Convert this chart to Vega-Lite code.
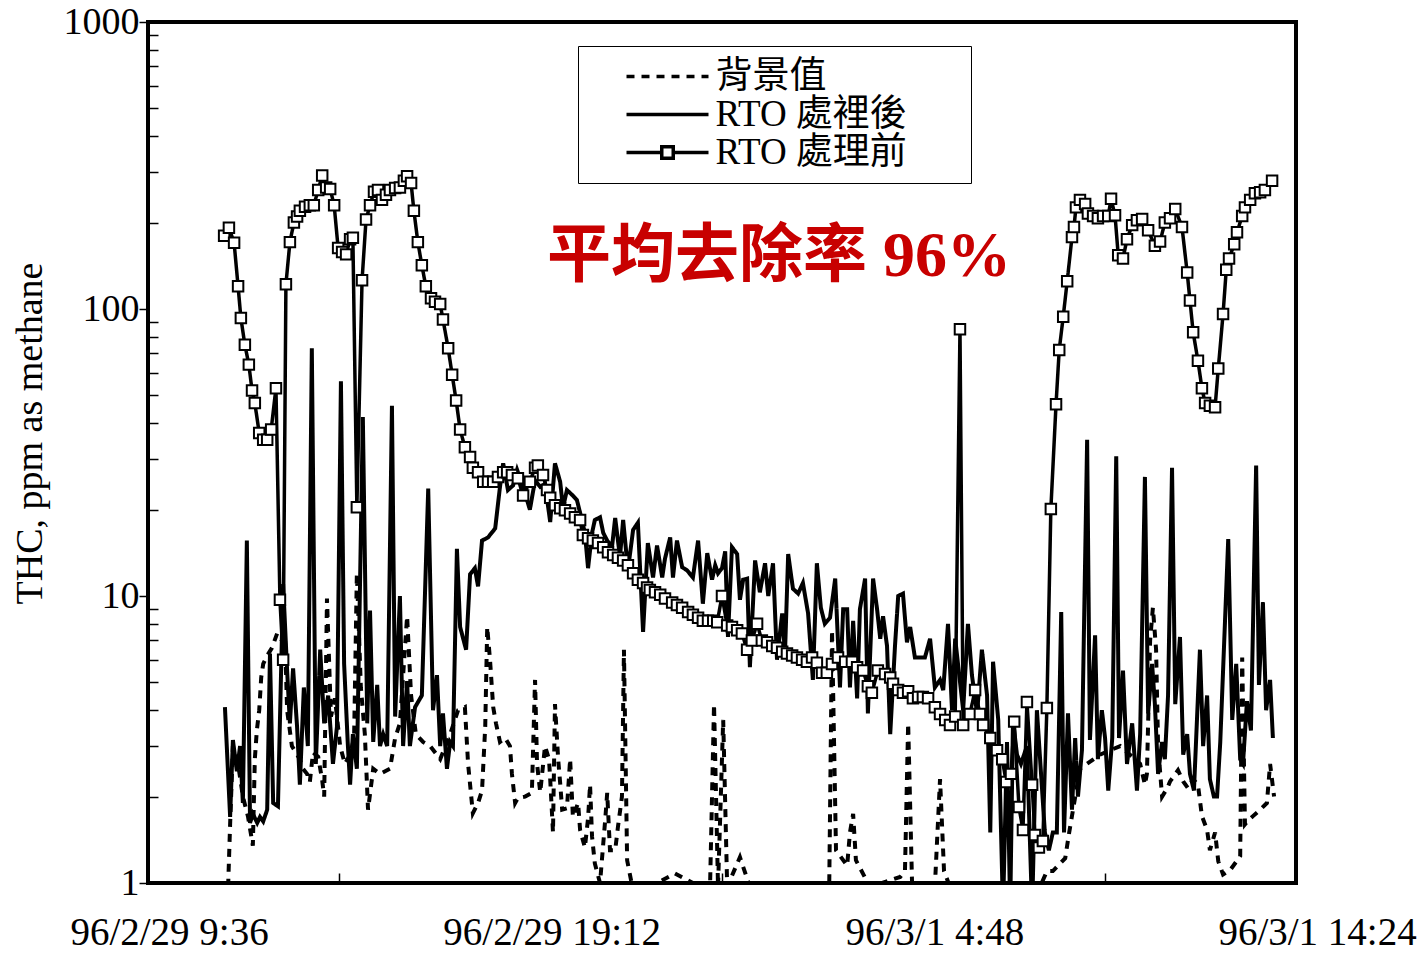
{
"$schema": "https://vega.github.io/schema/vega-lite/v6.json",
"width": 1148, "height": 861,
"autosize": {"type": "none"},
"padding": {"left": 148, "top": 22, "right": 130, "bottom": 74},
"background": "white",
"datasets": {
"before": [
{"t":11.51,"v":180},{"t":11.63,"v":192},{"t":11.76,"v":170},{"t":11.86,"v":120},{"t":11.93,"v":93},{"t":12.03,"v":75},{"t":12.13,"v":64},{"t":12.21,"v":52},{"t":12.28,"v":47},{"t":12.39,"v":37},{"t":12.49,"v":35},{"t":12.59,"v":35},{"t":12.69,"v":38},{"t":12.81,"v":53},{"t":12.91,"v":9.7},{"t":12.99,"v":6},{"t":13.06,"v":122},{"t":13.16,"v":171},{"t":13.26,"v":200},{"t":13.34,"v":210},{"t":13.41,"v":220},{"t":13.54,"v":227},{"t":13.66,"v":230},{"t":13.76,"v":230},{"t":13.87,"v":260},{"t":13.97,"v":292},{"t":14.07,"v":265},{"t":14.17,"v":262},{"t":14.27,"v":230},{"t":14.37,"v":163},{"t":14.47,"v":158},{"t":14.57,"v":155},{"t":14.67,"v":175},{"t":14.74,"v":177},{"t":14.84,"v":20.4},{"t":14.97,"v":126},{"t":15.07,"v":205},{"t":15.17,"v":230},{"t":15.27,"v":256},{"t":15.37,"v":260},{"t":15.47,"v":240},{"t":15.57,"v":250},{"t":15.67,"v":260},{"t":15.80,"v":264},{"t":15.92,"v":265},{"t":16.02,"v":280},{"t":16.10,"v":290},{"t":16.20,"v":275},{"t":16.27,"v":220},{"t":16.37,"v":171},{"t":16.47,"v":142},{"t":16.57,"v":120},{"t":16.70,"v":109},{"t":16.80,"v":106},{"t":16.93,"v":104},{"t":17.00,"v":92},{"t":17.13,"v":73},{"t":17.23,"v":59},{"t":17.33,"v":48},{"t":17.43,"v":38},{"t":17.55,"v":33},{"t":17.68,"v":30.5},{"t":17.75,"v":28},{"t":17.88,"v":27},{"t":18.01,"v":25},{"t":18.13,"v":25},{"t":18.26,"v":25},{"t":18.38,"v":26},{"t":18.51,"v":27},{"t":18.61,"v":27},{"t":18.73,"v":26.4},{"t":18.88,"v":25.7},{"t":19.01,"v":22.4},{"t":19.18,"v":25},{"t":19.31,"v":28},{"t":19.38,"v":28.5},{"t":19.51,"v":26.4},{"t":19.61,"v":23.4},{"t":19.69,"v":22},{"t":19.81,"v":20.7},{"t":19.94,"v":20.2},{"t":20.06,"v":19.9},{"t":20.19,"v":19.4},{"t":20.31,"v":18.8},{"t":20.44,"v":18.4},{"t":20.51,"v":16.3},{"t":20.64,"v":15.9},{"t":20.76,"v":15.6},{"t":20.89,"v":15.3},{"t":21.02,"v":14.8},{"t":21.14,"v":14.2},{"t":21.27,"v":13.9},{"t":21.39,"v":13.6},{"t":21.52,"v":13.3},{"t":21.64,"v":12.8},{"t":21.77,"v":12.0},{"t":21.89,"v":11.4},{"t":22.02,"v":11.1},{"t":22.12,"v":10.7},{"t":22.19,"v":10.5},{"t":22.32,"v":10.3},{"t":22.45,"v":10.1},{"t":22.57,"v":9.8},{"t":22.75,"v":9.5},{"t":22.87,"v":9.3},{"t":23.00,"v":9.1},{"t":23.15,"v":8.8},{"t":23.27,"v":8.6},{"t":23.40,"v":8.4},{"t":23.52,"v":8.2},{"t":23.65,"v":8.2},{"t":23.78,"v":8.2},{"t":23.88,"v":8.1},{"t":24.00,"v":10},{"t":24.13,"v":7.9},{"t":24.25,"v":7.8},{"t":24.38,"v":7.6},{"t":24.50,"v":7.4},{"t":24.63,"v":6.5},{"t":24.75,"v":7.0},{"t":24.88,"v":8.0},{"t":25.00,"v":7.0},{"t":25.13,"v":6.9},{"t":25.26,"v":6.7},{"t":25.38,"v":6.6},{"t":25.51,"v":6.4},{"t":25.63,"v":6.3},{"t":25.76,"v":6.2},{"t":25.88,"v":6.1},{"t":26.01,"v":6.0},{"t":26.13,"v":5.9},{"t":26.26,"v":6.1},{"t":26.38,"v":5.85},{"t":26.51,"v":5.4},{"t":26.63,"v":5.4},{"t":26.76,"v":5.8},{"t":26.91,"v":6.1},{"t":27.09,"v":5.9},{"t":27.26,"v":5.9},{"t":27.39,"v":5.65},{"t":27.54,"v":5.5},{"t":27.66,"v":4.85},{"t":27.76,"v":4.6},{"t":27.91,"v":5.5},{"t":28.09,"v":5.35},{"t":28.22,"v":5.2},{"t":28.29,"v":4.95},{"t":28.42,"v":4.7},{"t":28.54,"v":4.6},{"t":28.67,"v":4.66},{"t":28.79,"v":4.4},{"t":28.92,"v":4.45},{"t":29.04,"v":4.45},{"t":29.17,"v":4.4},{"t":29.34,"v":4.1},{"t":29.47,"v":3.88},{"t":29.60,"v":3.7},{"t":29.72,"v":3.55},{"t":29.85,"v":3.8},{"t":29.97,"v":85},{"t":30.05,"v":3.55},{"t":30.22,"v":3.88},{"t":30.35,"v":4.7},{"t":30.47,"v":3.88},{"t":30.55,"v":3.55},{"t":30.73,"v":3.2},{"t":30.90,"v":2.9},{"t":31.03,"v":2.7},{"t":31.13,"v":2.25},{"t":31.25,"v":2.4},{"t":31.33,"v":3.65},{"t":31.45,"v":1.84},{"t":31.55,"v":1.53},{"t":31.65,"v":4.27},{"t":31.78,"v":2.2},{"t":31.85,"v":1.47},{"t":31.95,"v":1.33},{"t":32.05,"v":1.4},{"t":32.15,"v":4.07},{"t":32.25,"v":20.1},{"t":32.38,"v":46.6},{"t":32.46,"v":72},{"t":32.56,"v":94},{"t":32.66,"v":125},{"t":32.78,"v":178},{"t":32.83,"v":193},{"t":32.88,"v":226},{"t":32.98,"v":240},{"t":33.11,"v":232},{"t":33.18,"v":215},{"t":33.31,"v":211},{"t":33.43,"v":207},{"t":33.56,"v":211},{"t":33.69,"v":211},{"t":33.76,"v":242},{"t":33.86,"v":212},{"t":33.94,"v":154},{"t":34.06,"v":150},{"t":34.16,"v":175},{"t":34.29,"v":196},{"t":34.41,"v":204},{"t":34.54,"v":206},{"t":34.69,"v":188},{"t":34.86,"v":166},{"t":34.99,"v":172},{"t":35.11,"v":200},{"t":35.24,"v":207},{"t":35.37,"v":223},{"t":35.54,"v":193},{"t":35.67,"v":134},{"t":35.74,"v":107},{"t":35.82,"v":83},{"t":35.94,"v":66},{"t":36.04,"v":53},{"t":36.12,"v":47},{"t":36.24,"v":46},{"t":36.37,"v":45.5},{"t":36.45,"v":62},{"t":36.57,"v":96},{"t":36.65,"v":137},{"t":36.72,"v":150},{"t":36.85,"v":168},{"t":36.92,"v":185},{"t":37.05,"v":211},{"t":37.12,"v":226},{"t":37.25,"v":240},{"t":37.37,"v":253},{"t":37.50,"v":255},{"t":37.62,"v":260},{"t":37.80,"v":280}
],
"after": [
{"t":11.53,"v":4.1},{"t":11.66,"v":1.7},{"t":11.73,"v":3.15},{"t":11.83,"v":2.45},{"t":11.91,"v":3.0},{"t":11.98,"v":1.9},{"t":12.08,"v":15.6},{"t":12.16,"v":1.62},{"t":12.23,"v":1.74},{"t":12.34,"v":1.62},{"t":12.41,"v":1.7},{"t":12.49,"v":1.64},{"t":12.59,"v":1.8},{"t":12.66,"v":6.3},{"t":12.74,"v":1.9},{"t":12.86,"v":1.85},{"t":12.99,"v":11},{"t":13.09,"v":5.5},{"t":13.16,"v":3.6},{"t":13.24,"v":5.6},{"t":13.34,"v":3.5},{"t":13.41,"v":2.2},{"t":13.51,"v":4.8},{"t":13.61,"v":3.0},{"t":13.71,"v":73},{"t":13.81,"v":2.6},{"t":13.92,"v":6.5},{"t":14.02,"v":3.6},{"t":14.12,"v":4.5},{"t":14.24,"v":2.6},{"t":14.34,"v":3.5},{"t":14.44,"v":56},{"t":14.52,"v":5.8},{"t":14.61,"v":3.1},{"t":14.67,"v":2.2},{"t":14.74,"v":3.3},{"t":14.84,"v":2.5},{"t":14.99,"v":42},{"t":15.10,"v":3.6},{"t":15.17,"v":8.9},{"t":15.25,"v":3.1},{"t":15.35,"v":4.9},{"t":15.42,"v":3.0},{"t":15.50,"v":3.3},{"t":15.60,"v":3.0},{"t":15.72,"v":46},{"t":15.80,"v":3.8},{"t":15.92,"v":10},{"t":16.00,"v":3.0},{"t":16.10,"v":5.05},{"t":16.17,"v":3.0},{"t":16.30,"v":4.1},{"t":16.47,"v":4.5},{"t":16.63,"v":23.7},{"t":16.75,"v":4.0},{"t":16.85,"v":5.3},{"t":16.93,"v":3.0},{"t":17.00,"v":3.9},{"t":17.10,"v":2.5},{"t":17.18,"v":3.1},{"t":17.25,"v":3.0},{"t":17.35,"v":14.6},{"t":17.43,"v":7.8},{"t":17.58,"v":6.5},{"t":17.68,"v":11.9},{"t":17.80,"v":12.5},{"t":17.88,"v":10.8},{"t":17.98,"v":15.6},{"t":18.13,"v":16},{"t":18.31,"v":17.2},{"t":18.43,"v":24},{"t":18.51,"v":29},{"t":18.63,"v":23.4},{"t":18.76,"v":24.3},{"t":18.86,"v":27.5},{"t":19.01,"v":24},{"t":19.18,"v":20},{"t":19.31,"v":25.3},{"t":19.44,"v":24},{"t":19.56,"v":24.6},{"t":19.69,"v":18.1},{"t":19.81,"v":29},{"t":19.94,"v":25},{"t":20.01,"v":20.3},{"t":20.11,"v":23.4},{"t":20.24,"v":22.5},{"t":20.36,"v":21.6},{"t":20.44,"v":19.5},{"t":20.56,"v":16.6},{"t":20.64,"v":12.5},{"t":20.74,"v":16.6},{"t":20.81,"v":18.4},{"t":20.94,"v":18.8},{"t":21.02,"v":16.6},{"t":21.12,"v":15.6},{"t":21.24,"v":14.8},{"t":21.32,"v":18.7},{"t":21.44,"v":13.7},{"t":21.52,"v":18.4},{"t":21.64,"v":12.3},{"t":21.77,"v":17},{"t":21.89,"v":18},{"t":22.02,"v":7.5},{"t":22.14,"v":15.3},{"t":22.27,"v":11.6},{"t":22.37,"v":15},{"t":22.50,"v":11.6},{"t":22.57,"v":13.5},{"t":22.70,"v":16},{"t":22.77,"v":11.6},{"t":22.87,"v":15.6},{"t":23.00,"v":12.6},{"t":23.12,"v":12.3},{"t":23.27,"v":11.6},{"t":23.40,"v":15.6},{"t":23.52,"v":9.4},{"t":23.63,"v":14.1},{"t":23.75,"v":11.4},{"t":23.83,"v":12.8},{"t":23.90,"v":12},{"t":24.00,"v":12.5},{"t":24.08,"v":14.3},{"t":24.15,"v":7.2},{"t":24.25,"v":14.8},{"t":24.38,"v":14},{"t":24.45,"v":9.7},{"t":24.53,"v":11.4},{"t":24.63,"v":11.5},{"t":24.70,"v":5.65},{"t":24.83,"v":13.3},{"t":24.95,"v":10.3},{"t":25.08,"v":13},{"t":25.16,"v":10},{"t":25.28,"v":13},{"t":25.38,"v":6},{"t":25.51,"v":8.7},{"t":25.58,"v":6.3},{"t":25.66,"v":14},{"t":25.78,"v":10.6},{"t":25.91,"v":10.2},{"t":26.03,"v":11.1},{"t":26.16,"v":8.7},{"t":26.28,"v":5.1},{"t":26.38,"v":13},{"t":26.48,"v":9.1},{"t":26.58,"v":8.0},{"t":26.71,"v":8.4},{"t":26.84,"v":11.5},{"t":26.96,"v":4.8},{"t":27.04,"v":9},{"t":27.14,"v":9},{"t":27.21,"v":4.8},{"t":27.29,"v":8.2},{"t":27.39,"v":4.4},{"t":27.46,"v":9},{"t":27.59,"v":11.5},{"t":27.66,"v":3.9},{"t":27.79,"v":11.5},{"t":27.89,"v":9},{"t":27.97,"v":7.1},{"t":28.04,"v":8.5},{"t":28.14,"v":6.7},{"t":28.22,"v":3.3},{"t":28.34,"v":6.7},{"t":28.42,"v":10},{"t":28.54,"v":10.2},{"t":28.64,"v":6.9},{"t":28.72,"v":7.8},{"t":28.84,"v":6.1},{"t":28.97,"v":6.1},{"t":29.09,"v":6.1},{"t":29.22,"v":7.1},{"t":29.34,"v":4.8},{"t":29.47,"v":5.1},{"t":29.55,"v":4.7},{"t":29.67,"v":8},{"t":29.77,"v":4},{"t":29.85,"v":7.1},{"t":30.05,"v":4},{"t":30.17,"v":8},{"t":30.27,"v":5.3},{"t":30.40,"v":3.9},{"t":30.52,"v":6.5},{"t":30.65,"v":4.5},{"t":30.73,"v":1.5},{"t":30.80,"v":5.9},{"t":30.93,"v":3.7},{"t":31.05,"v":0.8},{"t":31.15,"v":3.1},{"t":31.23,"v":0.8},{"t":31.30,"v":3.7},{"t":31.40,"v":2.8},{"t":31.50,"v":2.6},{"t":31.65,"v":3.0},{"t":31.78,"v":0.8},{"t":31.90,"v":4.0},{"t":31.98,"v":2.7},{"t":32.10,"v":1.5},{"t":32.20,"v":1.3},{"t":32.30,"v":1.5},{"t":32.40,"v":1.5},{"t":32.51,"v":8.8},{"t":32.58,"v":1.5},{"t":32.68,"v":3.9},{"t":32.78,"v":1.8},{"t":32.86,"v":3.2},{"t":32.93,"v":2.0},{"t":33.03,"v":2.9},{"t":33.16,"v":35},{"t":33.23,"v":3.15},{"t":33.36,"v":7.3},{"t":33.43,"v":2.7},{"t":33.53,"v":4.0},{"t":33.61,"v":3.2},{"t":33.69,"v":2.1},{"t":33.79,"v":3.2},{"t":33.89,"v":30.7},{"t":33.96,"v":3.2},{"t":34.06,"v":5.5},{"t":34.16,"v":2.6},{"t":34.29,"v":3.6},{"t":34.41,"v":2.1},{"t":34.49,"v":3.3},{"t":34.61,"v":26},{"t":34.69,"v":3.9},{"t":34.79,"v":5.8},{"t":34.86,"v":4.2},{"t":34.94,"v":2.4},{"t":35.04,"v":3.1},{"t":35.11,"v":2.7},{"t":35.19,"v":4.5},{"t":35.29,"v":28},{"t":35.37,"v":4.2},{"t":35.49,"v":7.2},{"t":35.57,"v":2.8},{"t":35.67,"v":3.3},{"t":35.74,"v":2.4},{"t":35.84,"v":2.1},{"t":35.99,"v":6.5},{"t":36.07,"v":3.0},{"t":36.17,"v":4.5},{"t":36.24,"v":2.3},{"t":36.34,"v":2.0},{"t":36.42,"v":2.0},{"t":36.50,"v":3.1},{"t":36.70,"v":15.8},{"t":36.80,"v":3.7},{"t":36.90,"v":5.8},{"t":37.00,"v":2.7},{"t":37.07,"v":2.6},{"t":37.17,"v":4.3},{"t":37.27,"v":3.4},{"t":37.40,"v":28.5},{"t":37.47,"v":4.9},{"t":37.57,"v":9.5},{"t":37.65,"v":4.0},{"t":37.75,"v":5.1},{"t":37.82,"v":3.2}
],
"bg": [
{"t":11.61,"v":0.97},{"t":11.66,"v":1.6},{"t":11.73,"v":3.0},{"t":11.86,"v":2.6},{"t":11.98,"v":2.0},{"t":12.11,"v":1.7},{"t":12.23,"v":1.35},{"t":12.28,"v":2.7},{"t":12.33,"v":3.4},{"t":12.39,"v":4.0},{"t":12.44,"v":5.2},{"t":12.49,"v":5.8},{"t":12.59,"v":6.2},{"t":12.71,"v":6.6},{"t":12.84,"v":7.4},{"t":12.96,"v":7.0},{"t":13.04,"v":6.9},{"t":13.09,"v":4.0},{"t":13.21,"v":3.0},{"t":13.41,"v":2.7},{"t":13.49,"v":2.5},{"t":13.59,"v":2.4},{"t":13.66,"v":2.25},{"t":13.74,"v":2.85},{"t":13.87,"v":2.75},{"t":13.97,"v":2.28},{"t":14.02,"v":2.0},{"t":14.09,"v":9.8},{"t":14.19,"v":3.8},{"t":14.29,"v":4.4},{"t":14.42,"v":3.0},{"t":14.54,"v":2.6},{"t":14.67,"v":2.8},{"t":14.77,"v":3.2},{"t":14.84,"v":12},{"t":14.94,"v":4.8},{"t":15.04,"v":3.3},{"t":15.12,"v":1.8},{"t":15.25,"v":2.5},{"t":15.42,"v":2.4},{"t":15.67,"v":2.5},{"t":15.80,"v":3.2},{"t":15.92,"v":3.6},{"t":16.10,"v":8.5},{"t":16.20,"v":4.5},{"t":16.32,"v":3.3},{"t":16.50,"v":3.1},{"t":16.68,"v":3.0},{"t":16.93,"v":2.7},{"t":17.18,"v":3.3},{"t":17.38,"v":4.0},{"t":17.55,"v":4.1},{"t":17.63,"v":2.6},{"t":17.75,"v":1.75},{"t":17.88,"v":1.9},{"t":17.98,"v":2.1},{"t":18.06,"v":3.5},{"t":18.11,"v":7.8},{"t":18.18,"v":6.0},{"t":18.26,"v":4.1},{"t":18.33,"v":3.6},{"t":18.43,"v":3.1},{"t":18.56,"v":3.2},{"t":18.68,"v":3.0},{"t":18.73,"v":2.4},{"t":18.81,"v":1.9},{"t":18.88,"v":1.98},{"t":19.06,"v":2.0},{"t":19.23,"v":2.06},{"t":19.31,"v":5.1},{"t":19.36,"v":2.6},{"t":19.44,"v":2.07},{"t":19.56,"v":3.0},{"t":19.66,"v":2.7},{"t":19.69,"v":2.3},{"t":19.76,"v":1.5},{"t":19.81,"v":4.2},{"t":19.89,"v":2.7},{"t":19.94,"v":2.23},{"t":19.99,"v":1.8},{"t":20.11,"v":1.82},{"t":20.19,"v":2.7},{"t":20.26,"v":1.7},{"t":20.39,"v":1.9},{"t":20.44,"v":1.53},{"t":20.56,"v":1.33},{"t":20.64,"v":1.68},{"t":20.69,"v":2.2},{"t":20.74,"v":1.45},{"t":20.81,"v":1.17},{"t":20.94,"v":1.0},{"t":21.07,"v":1.66},{"t":21.12,"v":2.06},{"t":21.19,"v":1.3},{"t":21.32,"v":1.3},{"t":21.39,"v":1.57},{"t":21.49,"v":2.0},{"t":21.54,"v":6.5},{"t":21.62,"v":1.2},{"t":21.75,"v":0.97},{"t":22.19,"v":0.97},{"t":22.82,"v":1.08},{"t":23.45,"v":0.97},{"t":23.70,"v":0.97},{"t":23.80,"v":4.2},{"t":23.90,"v":0.97},{"t":24.03,"v":3.7},{"t":24.13,"v":0.97},{"t":24.45,"v":1.23},{"t":24.70,"v":0.97},{"t":25.96,"v":0.97},{"t":26.69,"v":0.97},{"t":26.76,"v":7.6},{"t":26.86,"v":1.3},{"t":27.14,"v":1.15},{"t":27.21,"v":1.5},{"t":27.29,"v":1.74},{"t":27.36,"v":1.2},{"t":27.71,"v":0.97},{"t":28.47,"v":1.05},{"t":28.59,"v":1.1},{"t":28.67,"v":3.6},{"t":28.77,"v":0.97},{"t":29.34,"v":0.97},{"t":29.47,"v":2.3},{"t":29.57,"v":1.1},{"t":29.72,"v":0.97},{"t":31.98,"v":0.97},{"t":32.15,"v":1.1},{"t":32.30,"v":1.1},{"t":32.61,"v":1.22},{"t":32.71,"v":1.5},{"t":32.98,"v":2.5},{"t":33.48,"v":2.8},{"t":33.99,"v":3.0},{"t":34.49,"v":2.6},{"t":34.61,"v":2.2},{"t":34.66,"v":2.4},{"t":34.74,"v":7},{"t":34.81,"v":9.1},{"t":34.89,"v":6.5},{"t":34.94,"v":3.0},{"t":35.04,"v":2.0},{"t":35.17,"v":2.14},{"t":35.24,"v":2.26},{"t":35.44,"v":2.47},{"t":35.57,"v":2.26},{"t":35.69,"v":2.14},{"t":35.82,"v":2.3},{"t":35.94,"v":2.2},{"t":36.04,"v":1.71},{"t":36.17,"v":1.53},{"t":36.24,"v":1.3},{"t":36.37,"v":1.5},{"t":36.45,"v":1.19},{"t":36.57,"v":1.07},{"t":36.75,"v":1.11},{"t":37.00,"v":1.24},{"t":37.05,"v":6.1},{"t":37.12,"v":1.6},{"t":37.20,"v":1.65},{"t":37.32,"v":1.71},{"t":37.50,"v":1.8},{"t":37.67,"v":1.9},{"t":37.75,"v":2.6},{"t":37.85,"v":2.0}
]
},
"encoding": {
"x": {"field": "t", "type": "quantitative",
 "scale": {"domain": [9.6, 38.4], "nice": false, "zero": false},
 "axis": {"values": [9.6, 14.4, 19.2, 24, 28.8, 33.6, 38.4],
  "labelExpr": "datum.value == 9.6 ? '96/2/29 9:36' : datum.value == 19.2 ? '96/2/29 19:12' : datum.value == 28.8 ? '96/3/1 4:48' : datum.value == 38.4 ? '96/3/1 14:24' : ''",
  "labelFont": "Liberation Serif", "labelFontSize": 39, "labelColor": "black", "labelLimit": 0,
  "labelOffset": 21, "labelPadding": 30, "labelFlush": false, "labelOverlap": false, "labelBound": false,
  "tickSize": {"condition": {"test": "datum.value == 14.4 || datum.value == 24 || datum.value == 33.6", "value": -10}, "value": 0},
  "tickColor": "black", "tickWidth": 1.5, "domain": false, "grid": false, "title": null}},
"y": {"field": "v", "type": "quantitative",
 "scale": {"type": "log", "domain": [1, 1000], "nice": false},
 "axis": {"values": [1,2,3,4,5,6,7,8,9,10,20,30,40,50,60,70,80,90,100,200,300,400,500,600,700,800,900,1000],
  "labelExpr": "datum.value == 1 || datum.value == 10 || datum.value == 100 || datum.value == 1000 ? format(datum.value, 'd') : ''",
  "tickSize": {"condition": {"test": "datum.value == 1 || datum.value == 10 || datum.value == 100 || datum.value == 1000", "value": 9}, "value": -10},
  "labelFont": "Liberation Serif", "labelFontSize": 38, "labelColor": "black", "labelPadding": 0,
  "labelFlush": false, "labelOverlap": false, "labelBound": false,
  "tickColor": "black", "tickWidth": 1.5, "domain": false, "grid": false,
  "title": "THC, ppm as methane", "titleFont": "Liberation Serif", "titleFontSize": 38, "titleFontWeight": "normal", "titleColor": "black",
  "titleX": -118, "titleY": 411, "titleAngle": 270, "titleAlign": "center", "titleBaseline": "middle"}}
},
"layer": [
{"data": {"name": "bg"},
 "mark": {"type": "line", "color": "black", "strokeWidth": 4, "clip": true},
 "encoding": {"strokeDash": {"datum": "bg", "type": "nominal",
   "scale": {"domain": ["bg", "after", "before"], "range": [[8, 7], [1, 0], [1, 0]]},
   "legend": {"orient": "none", "legendX": 430, "legendY": 24,
    "title": " ", "titleOrient": "right", "titlePadding": 52, "titleFontSize": 10,
    "labelExpr": "datum.value == 'bg' ? '背景值' : datum.value == 'after' ? 'RTO 處裡後' : 'RTO 處理前'",
    "labelFont": "Liberation Serif, Noto Sans CJK TC", "labelFontSize": 37, "labelColor": "black", "labelLimit": 0,
    "symbolType": "stroke", "symbolSize": 6724, "symbolStrokeWidth": 3.5, "symbolStrokeColor": "black",
    "symbolOffset": 34.5, "labelOffset": 5, "clipHeight": 37, "rowPadding": 0, "padding": 12,
    "strokeColor": "black", "fillColor": "white",
    "values": ["bg", "after", "before"],
    "encode": {"symbols": {"update": {
      "shape": {"signal": "datum.value === 'before' ? 'M-1,0H-0.14M0.14,0H1M-0.14,-0.14H0.14V0.14H-0.14Z' : 'stroke'"},
      "fill": {"value": "white"}, "stroke": {"value": "black"}, "opacity": {"value": 1}}}}}}}},
{"data": {"name": "after"},
 "mark": {"type": "line", "color": "black", "strokeWidth": 4, "clip": true},
 "encoding": {"strokeDash": {"datum": "after", "type": "nominal"}}},
{"data": {"name": "before"},
 "mark": {"type": "line", "color": "black", "strokeWidth": 3.5, "clip": true},
 "encoding": {"strokeDash": {"datum": "before", "type": "nominal"}}},
{"data": {"name": "before"},
 "mark": {"type": "point", "shape": "square", "filled": true, "fill": "white", "stroke": "black", "strokeWidth": 2, "size": 110, "opacity": 1, "clip": true},
 "encoding": {}},
{"data": {"values": [{"t": 25.43, "v": 152, "label": "平均去除率 96%"}]},
 "mark": {"type": "text", "font": "Liberation Serif, Noto Sans CJK TC", "fontSize": 64, "fontWeight": "bold", "color": "#c80000", "align": "center", "baseline": "middle"},
 "encoding": {"text": {"field": "label"}}}
],
"config": {
 "view": {"stroke": "black", "strokeWidth": 4},
 "font": "Liberation Serif"
}
}
